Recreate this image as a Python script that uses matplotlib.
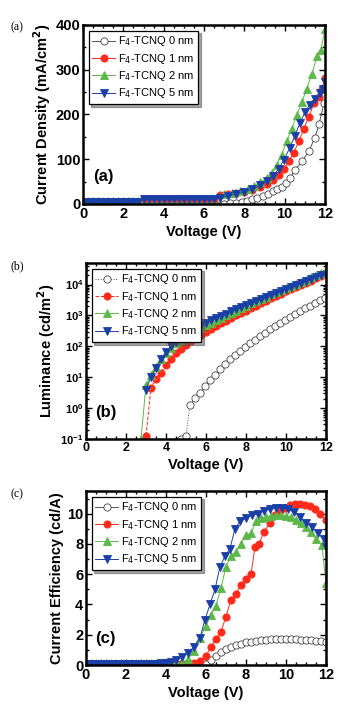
import matplotlib
matplotlib.use("Agg")
import matplotlib.pyplot as plt
from matplotlib.ticker import MultipleLocator, LogLocator, NullFormatter

# ---------------- data ----------------
labels = ["F$_4$-TCNQ 0 nm", "F$_4$-TCNQ 1 nm", "F$_4$-TCNQ 2 nm", "F$_4$-TCNQ 5 nm"]

# (a) current density (mA/cm2)
va0 = [0, 0.5, 1.0, 1.5, 2.0, 2.5, 3.0, 3.5, 4.0, 4.5, 5.0, 5.5, 6.0, 6.5, 7.0, 7.3, 7.6, 7.9, 8.15, 8.4, 8.65, 8.9, 9.15, 9.4, 9.6,
       9.85, 10.05, 10.25, 10.5, 10.85, 11.2, 11.5, 11.7, 11.95]
ja0 = [1, 1, 1, 1, 1, 1, 1, 1, 1, 1, 1, 1, 1, 1, 1, 2, 3, 5, 7, 10, 14, 18, 23, 28, 33,
       39, 46, 58, 75, 95, 118, 148, 178, 225]
va1 = [0, 0.5, 1.0, 1.5, 2.0, 2.5, 3.0, 3.5, 4.0, 4.5, 5.0, 5.5, 6.0, 6.5, 6.8, 7.2, 7.6, 8.0, 8.4, 8.8, 9.1, 9.4, 9.7, 9.95,
       10.2, 10.45, 10.7, 10.95, 11.2, 11.45, 11.7, 11.85, 12.0]
ja1 = [4, 4, 4, 4, 4, 4, 10, 12, 12, 12, 12, 12, 12, 12, 20, 22, 24, 27, 31, 37, 45, 54, 65, 78,
       95, 115, 140, 168, 195, 225, 240, 258, 282]
va2 = [0, 0.25, 0.5, 0.75, 1.0, 1.25, 1.5, 1.75, 2.0, 2.25, 2.5, 2.75, 3.0, 3.25, 3.5, 3.75, 4.0, 4.25, 4.5, 4.75, 5.0, 5.25, 5.5, 5.75,
       6.0, 6.25, 6.5, 6.75, 7.0, 7.4, 7.8, 8.2, 8.5, 8.8, 9.1, 9.35, 9.6, 9.85, 10.1, 10.35, 10.6, 10.85, 11.1, 11.35, 11.6, 11.8, 12.0]
ja2 = [7, 7, 7, 7, 7, 7, 7, 7, 7, 7, 7, 7, 1, 1, 1, 1, 1, 1, 1, 1, 1, 1, 1, 1,
       1, 1, 1, 1, 22, 25, 28, 33, 40, 48, 58, 70, 88, 110, 140, 168, 198, 228, 258, 290, 330, 345, 390]
va5 = [0, 0.25, 0.5, 0.75, 1.0, 1.25, 1.5, 1.75, 2.0, 2.25, 2.5, 2.75, 3.0, 3.25, 3.5, 3.75, 4.0, 4.25, 4.5, 4.75, 5.0, 5.25, 5.5, 5.75,
       6.0, 6.25, 6.5, 6.8, 7.2, 7.6, 8.0, 8.4, 8.8, 9.1, 9.4, 9.7, 9.95, 10.25, 10.5, 10.75, 11.0, 11.25, 11.5, 11.75, 11.9, 12.0]
ja5 = [4, 4, 4, 4, 4, 4, 4, 4, 4, 4, 4, 4, 12, 12, 12, 12, 12, 12, 12, 12, 12, 12, 12, 12,
       12, 12, 12, 14, 18, 22, 27, 33, 42, 52, 63, 78, 98, 125, 152, 180, 205, 222, 235, 248, 258, 272]

# (b) luminance (cd/m2)
vb0 = [4.75, 5.0, 5.2, 5.45, 5.7, 5.95, 6.2, 6.45, 6.7, 6.95, 7.2, 7.45, 7.7, 7.95, 8.2, 8.45, 8.7, 8.95, 9.2, 9.45, 9.7, 9.95,
       10.2, 10.45, 10.7, 10.95, 11.2, 11.45, 11.7, 11.95]
lb0 = [0.1, 0.13, 1.3, 2.1, 3.2, 5.2, 8, 12, 18, 27, 38, 52, 70, 95, 125, 165, 215, 280, 360, 460, 580, 730,
       900, 1100, 1400, 1700, 2100, 2600, 3100, 3800]
vb1 = [3.0, 3.25, 3.5, 3.75, 4.0, 4.25, 4.5, 4.75, 5.0, 5.25, 5.5, 5.75, 6.0, 6.25, 6.5, 6.75, 7.0, 7.25, 7.5, 7.75, 8.0, 8.25, 8.5, 8.75,
       9.0, 9.25, 9.5, 9.75, 10.0, 10.25, 10.5, 10.75, 11.0, 11.25, 11.5, 11.75, 12.0]
lb1 = [0.13, 4.5, 9, 14, 25, 40, 60, 85, 115, 150, 190, 240, 300, 370, 460, 560, 680, 830, 1000, 1200, 1450, 1750, 2100, 2500,
       3000, 3600, 4300, 5100, 6000, 7100, 8300, 9800, 11500, 13500, 16000, 19500, 24000]
vb2 = [2.75, 3.0, 3.25, 3.5, 3.75, 4.0, 4.25, 4.5, 4.75, 5.0, 5.25, 5.5, 5.75, 6.0, 6.25, 6.5, 6.75, 7.0, 7.25, 7.5, 7.75, 8.0, 8.25, 8.5, 8.75,
       9.0, 9.25, 9.5, 9.75, 10.0, 10.25, 10.5, 10.75, 11.0, 11.25, 11.5, 11.75, 12.0]
lb2 = [0.1, 5.5, 12, 22, 38, 60, 90, 125, 165, 210, 265, 330, 400, 480, 580, 700, 830, 1000, 1200, 1450, 1700, 2050, 2450, 2900, 3450,
       4100, 4800, 5700, 6700, 7900, 9200, 10800, 12500, 14500, 17000, 20000, 24000, 29000]
vb5 = [3.0, 3.25, 3.5, 3.75, 4.0, 4.25, 4.5, 4.75, 5.0, 5.25, 5.5, 5.75, 6.0, 6.25, 6.5, 6.75, 7.0, 7.25, 7.5, 7.75, 8.0, 8.25, 8.5, 8.75,
       9.0, 9.25, 9.5, 9.75, 10.0, 10.25, 10.5, 10.75, 11.0, 11.25, 11.5, 11.75, 12.0]
lb5 = [4, 10, 20, 38, 65, 100, 140, 190, 250, 320, 400, 490, 590, 700, 830, 980, 1150, 1350, 1600, 1850, 2150, 2500, 2900, 3400,
       3900, 4500, 5200, 6000, 7000, 8100, 9400, 11000, 13000, 15500, 18000, 20000, 21000]

# (c) current efficiency (cd/A)
vc0 = [0, 0.25, 0.5, 0.75, 1.0, 1.25, 1.5, 1.75, 2.0, 2.25, 2.5, 2.75, 3.0, 3.25, 3.5, 3.75, 4.0, 4.25, 4.5, 4.75, 5.0, 5.25, 5.5, 5.75,
       6.0, 6.25, 6.5, 6.75, 7.0, 7.25, 7.5, 7.75, 8.0, 8.25, 8.5, 8.75, 9.0, 9.25, 9.5, 9.75, 10.0,
       10.25, 10.5, 10.75, 11.0, 11.25, 11.5, 11.75, 12.0]
ec0 = [0.05, 0.05, 0.05, 0.05, 0.05, 0.05, 0.05, 0.05, 0.05, 0.05, 0.05, 0.05, 0.05, 0.05, 0.05, 0.05, 0.05, 0.05, 0.05, 0.05, 0.05, 0.05, 0.05, 0.05,
       0.05, 0.3, 0.6, 0.85, 1.05, 1.2, 1.3, 1.42, 1.5, 1.55, 1.6, 1.65, 1.68, 1.7, 1.72, 1.72, 1.72,
       1.7, 1.7, 1.68, 1.65, 1.63, 1.6, 1.58, 1.55]
vc1 = [0, 0.25, 0.5, 0.75, 1.0, 1.25, 1.5, 1.75, 2.0, 2.25, 2.5, 2.75, 3.0, 3.25, 3.5, 3.75, 4.0, 4.25, 4.5, 4.75, 5.0, 5.2,
       5.4, 5.7, 6.0, 6.25, 6.5, 6.75, 7.0, 7.25, 7.5, 7.75, 8.0, 8.25, 8.45, 8.65, 8.9, 9.2, 9.45, 9.7, 9.95,
       10.2, 10.45, 10.7, 10.95, 11.2, 11.45, 11.7, 12.0]
ec1 = [0.05, 0.05, 0.05, 0.05, 0.05, 0.05, 0.05, 0.05, 0.05, 0.05, 0.05, 0.05, 0.05, 0.05, 0.05, 0.05, 0.05, 0.05, 0.05, 0.05, 0.05, 0.05,
       0.1, 0.25, 0.6, 1.2, 1.7, 2.2, 3.2, 4.3, 4.7, 5.3, 5.7, 6.0, 7.8, 8.0, 8.8, 9.4, 9.9, 10.2, 10.4,
       10.55, 10.65, 10.65, 10.6, 10.5, 10.3, 10.0, 9.6]
vc2 = [0, 0.25, 0.5, 0.75, 1.0, 1.25, 1.5, 1.75, 2.0, 2.25, 2.5, 2.75, 3.0, 3.25, 3.5, 3.75, 4.0, 4.25, 4.5,
       4.8, 5.1, 5.4, 5.7, 6.0, 6.25, 6.5, 6.75, 7.0, 7.25, 7.5, 7.75, 8.0, 8.25, 8.5, 8.75, 9.0, 9.25, 9.5, 9.75, 10.0,
       10.25, 10.5, 10.75, 11.0, 11.25, 11.5, 11.8, 12.0]
ec2 = [0.1, 0.1, 0.1, 0.1, 0.1, 0.1, 0.1, 0.1, 0.1, 0.1, 0.1, 0.1, 0.1, 0.1, 0.1, 0.1, 0.1, 0.1, 0.1,
       0.15, 0.4, 0.9, 1.8, 2.6, 3.3, 3.9, 5.1, 6.5, 7.2, 7.5, 8.0, 8.6, 8.7, 9.5, 9.7, 9.8, 9.85, 9.9, 9.9, 9.85,
       9.75, 9.6, 9.4, 9.1, 8.8, 8.3, 7.9, 5.4]
vc5 = [0, 0.25, 0.5, 0.75, 1.0, 1.25, 1.5, 1.75, 2.0, 2.25, 2.5, 2.75, 3.0, 3.25, 3.5, 3.75, 4.0, 4.25,
       4.5, 4.8, 5.1, 5.4, 5.7, 5.95, 6.2, 6.45, 6.7, 6.95, 7.2, 7.45, 7.7, 8.0, 8.3, 8.6, 8.9, 9.2, 9.5, 9.8, 10.1,
       10.4, 10.7, 11.0, 11.3, 11.6, 11.9, 12.0]
ec5 = [0.05, 0.05, 0.05, 0.05, 0.05, 0.05, 0.05, 0.05, 0.05, 0.05, 0.05, 0.05, 0.05, 0.05, 0.05, 0.1, 0.1, 0.2,
       0.3, 0.55, 0.8, 1.2, 1.8, 3.0, 4.0, 5.0, 6.5, 7.2, 7.7, 9.0, 9.5, 9.7, 9.9, 10.0, 10.2, 10.3, 10.4, 10.4, 10.3,
       10.1, 9.8, 9.4, 9.1, 8.7, 8.3, 7.8]

# ---------------- style ----------------
plt.rcParams['font.family'] = ['Liberation Sans', 'DejaVu Sans']
colors = ['#555555', '#ff2a1a', '#5cb848', '#1a40a8']
mfc = ['white', '#ff2a1a', '#5cb848', '#1a40a8']
markers = ['o', 'o', '^', 'v']
ms = 5.2

fig = plt.figure(figsize=(3.38, 7.07), dpi=100)
axa = fig.add_axes([0.2456, 0.7115, 0.716, 0.2532])
axb = fig.add_axes([0.2544, 0.379, 0.710, 0.249])
axc = fig.add_axes([0.2544, 0.0594, 0.710, 0.2461])


def plot_series(ax, xs, ys, styles):
    for i, (x, y) in enumerate(zip(xs, ys)):
        ax.plot(x, y, marker=markers[i], ms=ms, mfc=mfc[i],
                mec=('#444444' if i == 0 else colors[i]), mew=0.6,
                color=colors[i], lw=0.7, ls=styles[i], label=labels[i])


def style_axes(ax, ylabel, tag, letter, tlab=10.5):
    for s in ax.spines.values():
        s.set_linewidth(1.8)
    ax.set_xlim(0, 12)
    ax.xaxis.set_major_locator(MultipleLocator(2))
    ax.xaxis.set_minor_locator(MultipleLocator(0.5))
    ax.tick_params(which='both', direction='in', top=True, right=True,
                   labelsize=tlab, width=1.0)
    ax.tick_params(which='major', length=4, pad=2)
    ax.tick_params(which='minor', length=2)
    for lab in ax.get_xticklabels() + ax.get_yticklabels():
        lab.set_fontweight('bold')
    ax.set_xlabel('Voltage (V)', fontsize=10.5, fontweight='bold', labelpad=3)
    ax.set_ylabel(ylabel, fontsize=10.5, fontweight='bold', labelpad=2)
    ax.text(0.04, 0.11, tag, transform=ax.transAxes, fontsize=12,
            fontweight='bold', va='bottom', ha='left')
    leg = ax.legend(loc='upper left', fontsize=8, frameon=True, shadow=True,
                    fancybox=False, borderpad=0.35, labelspacing=0.3,
                    handlelength=2.0, handletextpad=0.3, borderaxespad=0.5)
    leg.get_frame().set_edgecolor('black')
    leg.get_frame().set_linewidth(0.9)
    bb = ax.get_position()
    fig.text(0.03, bb.y1 - 0.004, letter, fontsize=8.5, family='Liberation Serif',
             va='center', ha='left')


plot_series(axa, [va0, va1, va2, va5], [ja0, ja1, ja2, ja5], ['-', '-', '-', '-'])
axa.set_ylim(0, 400)
axa.yaxis.set_major_locator(MultipleLocator(100))
axa.yaxis.set_minor_locator(MultipleLocator(50))
style_axes(axa, 'Current Density (mA/cm$^\\mathbf{2}$)', '(a)', '(a)')

plot_series(axb, [vb0, vb1, vb2, vb5], [lb0, lb1, lb2, lb5], [':', '--', '-', '-'])
axb.set_yscale('log')
axb.set_ylim(0.1, 5e4)
axb.yaxis.set_major_locator(LogLocator(base=10, numticks=10))
axb.yaxis.set_minor_locator(LogLocator(base=10, subs=range(2, 10), numticks=20))
axb.yaxis.set_minor_formatter(NullFormatter())
style_axes(axb, 'Luminance (cd/m$^\\mathbf{2}$)', '(b)', '(b)', tlab=9)
axb.tick_params(axis='y', labelsize=8)
for lab in axb.get_xticklabels() + axb.get_yticklabels():
    lab.set_fontweight('bold')

plot_series(axc, [vc0, vc1, vc2, vc5], [ec0, ec1, ec2, ec5], ['-', '-', '-', '-'])
axc.set_ylim(0, 11.5)
axc.yaxis.set_major_locator(MultipleLocator(2))
axc.yaxis.set_minor_locator(MultipleLocator(1))
style_axes(axc, 'Current Efficiency (cd/A)', '(c)', '(c)')

fig.savefig('out.png', dpi=100)
